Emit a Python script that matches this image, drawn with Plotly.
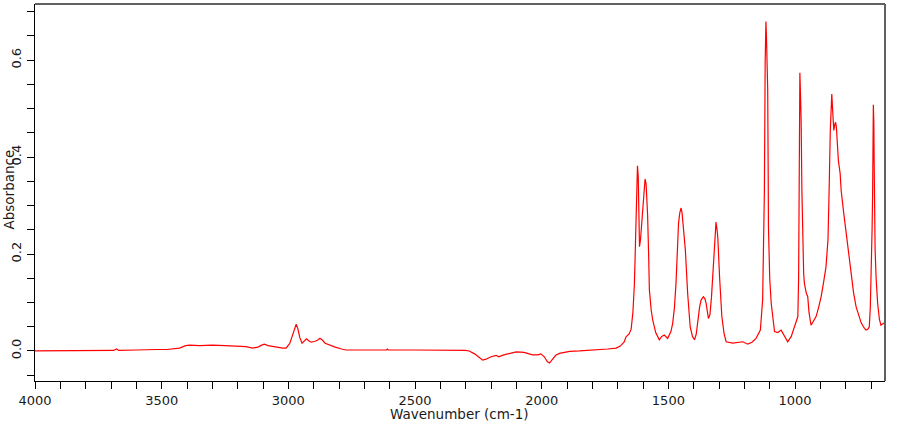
import plotly.graph_objects as go

wavenumber = [
    4000, 3900, 3800, 3720, 3690, 3678, 3670, 3600, 3560, 3520, 3480, 3450, 3430,
    3405, 3390, 3350, 3300, 3250, 3200, 3167, 3141, 3120, 3105, 3095, 3080, 3050,
    3022, 3009, 2995, 2985, 2975, 2969, 2962, 2955, 2946, 2938, 2928, 2920, 2910,
    2895, 2885, 2875, 2865, 2855, 2838, 2815, 2790, 2773, 2700, 2650, 2612, 2609,
    2605, 2500, 2400, 2350, 2300, 2286, 2265, 2245, 2233, 2220, 2200, 2180, 2170,
    2150, 2120, 2101, 2070, 2036, 2015, 2003, 1990, 1978, 1969, 1958, 1945, 1930,
    1890, 1850, 1785, 1740, 1706, 1690, 1675, 1667, 1655, 1647, 1640, 1634, 1630,
    1627, 1625, 1622, 1619, 1616, 1614, 1610, 1605, 1601, 1596, 1592, 1588, 1582,
    1578, 1575, 1568, 1562, 1550, 1536, 1526, 1516, 1503, 1490, 1483, 1476, 1470,
    1465, 1460, 1455, 1450, 1446, 1443, 1433, 1424, 1414, 1405, 1397, 1390, 1384,
    1377, 1371, 1362, 1356, 1351, 1342, 1336, 1330, 1325, 1320, 1316, 1312, 1308,
    1305, 1298, 1289, 1280, 1272, 1246, 1220, 1206, 1187, 1170, 1154, 1137, 1128,
    1123, 1121, 1118, 1115, 1113, 1110, 1108, 1106, 1105, 1100, 1094, 1081, 1068,
    1055, 1040, 1029, 1015, 1003, 995, 989, 986, 984, 981, 978, 976, 973, 970,
    966, 963, 956, 950, 945, 937, 928, 917, 907, 897, 888, 878, 870, 867, 865,
    861, 858, 855, 852, 849, 847, 843, 840, 837, 834, 829, 822, 818, 808, 798,
    789, 779, 769, 759, 749, 739, 728, 720, 712, 707, 703, 700, 696, 694, 692,
    691, 689, 688, 686, 684, 680, 674, 667, 661, 656, 652, 648, 645,
]

absorbance = [
    0.0, 0.0, 0.0005, 0.0005, 0.001, 0.004, 0.001, 0.002, 0.003, 0.003, 0.003, 0.005, 0.006,
    0.011, 0.012, 0.011, 0.012, 0.011, 0.010, 0.009, 0.006, 0.008, 0.012, 0.014, 0.011, 0.008,
    0.006, 0.006, 0.015, 0.030, 0.048, 0.055, 0.045, 0.028, 0.016, 0.020, 0.025, 0.021, 0.018,
    0.020, 0.022, 0.026, 0.022, 0.016, 0.012, 0.008, 0.004, 0.002, 0.002, 0.002, 0.002, 0.004,
    0.002, 0.002, 0.002, 0.002, 0.001, 0.0, -0.006, -0.014, -0.019, -0.017, -0.012, -0.009, -0.012,
    -0.008, -0.004, -0.002, -0.003, -0.008, -0.008, -0.006, -0.012, -0.022, -0.025, -0.018, -0.009, -0.005,
    -0.001, 0.0, 0.002, 0.004, 0.006, 0.010, 0.018, 0.029, 0.035, 0.045, 0.080, 0.139, 0.220,
    0.290, 0.340, 0.382, 0.360, 0.260, 0.215, 0.230, 0.270, 0.300, 0.345, 0.355, 0.345, 0.280,
    0.200, 0.126, 0.085, 0.064, 0.038, 0.023, 0.030, 0.033, 0.026, 0.040, 0.057, 0.090, 0.139,
    0.210, 0.263, 0.285, 0.295, 0.285, 0.270, 0.208, 0.119, 0.050, 0.030, 0.023, 0.035, 0.064,
    0.090, 0.105, 0.112, 0.108, 0.098, 0.067, 0.075, 0.110, 0.153, 0.210, 0.242, 0.266, 0.250,
    0.235, 0.153, 0.071, 0.035, 0.019, 0.016, 0.018, 0.019, 0.014, 0.018, 0.026, 0.043, 0.105,
    0.250, 0.331, 0.595, 0.680, 0.650, 0.560, 0.540, 0.360, 0.256, 0.150, 0.098, 0.040, 0.038,
    0.043, 0.028, 0.019, 0.030, 0.047, 0.060, 0.071, 0.150, 0.300, 0.574, 0.520, 0.475, 0.330, 0.208,
    0.160, 0.139, 0.120, 0.112, 0.080, 0.053, 0.060, 0.071, 0.090, 0.112, 0.140, 0.173, 0.230, 0.280, 0.345,
    0.455, 0.510, 0.530, 0.500, 0.460, 0.455, 0.468, 0.472, 0.462, 0.440, 0.393, 0.366, 0.331, 0.285, 0.242,
    0.200, 0.160, 0.120, 0.091, 0.072, 0.058, 0.048, 0.043, 0.045, 0.050, 0.090, 0.139, 0.250, 0.320, 0.450,
    0.508, 0.470, 0.400, 0.300, 0.208, 0.150, 0.098, 0.065, 0.053, 0.055, 0.057, 0.058, 0.058,
]

x_tick_values = list(range(4000, 600, -100))
x_tick_labels = [str(v) if v % 500 == 0 else "" for v in x_tick_values]
y_tick_values = [round(-0.05 + 0.05 * i, 2) for i in range(16)]
y_tick_labels = [f"{v:.1f}" if abs(round(v / 0.2) * 0.2 - v) < 1e-9 and v >= 0 else "" for v in y_tick_values]

FONT = "DejaVu Sans"
TXT = "#1a1a1a"

fig = go.Figure()
fig.add_trace(go.Scatter(
    x=wavenumber, y=absorbance, mode="lines",
    line=dict(color="#ff0000", width=1.2),
    hoverinfo="skip", showlegend=False,
))

fig.update_layout(
    width=910, height=425,
    margin=dict(l=35, r=25, t=4, b=44),
    paper_bgcolor="white", plot_bgcolor="white",
    font=dict(family=FONT, size=13, color=TXT),
    xaxis=dict(
        range=[4000, 645], showgrid=False, zeroline=False,
        showline=True, linecolor="black", linewidth=1,
        ticks="outside", ticklen=7, tickcolor="black", tickwidth=1,
        tickmode="array", tickvals=x_tick_values, ticktext=x_tick_labels,
        tickfont=dict(family=FONT, size=13, color=TXT),
    ),
    yaxis=dict(
        range=[-0.062, 0.716], showgrid=False, zeroline=False,
        showline=True, linecolor="black", linewidth=1,
        ticks="outside", ticklen=7, tickcolor="black", tickwidth=1,
        tickmode="array", tickvals=y_tick_values, ticktext=y_tick_labels,
        tickangle=-90, ticklabelstandoff=1,
        tickfont=dict(family=FONT, size=13, color=TXT),
    ),
    shapes=[
        dict(type="line", xref="paper", yref="paper", x0=0, x1=1, y0=1, y1=1,
             line=dict(color="#606060", width=2)),
        dict(type="line", xref="paper", yref="paper", x0=1, x1=1, y0=0, y1=1,
             line=dict(color="#606060", width=2)),
    ],
    annotations=[
        dict(text="Wavenumber (cm-1)", xref="paper", yref="paper",
             x=0.4994, y=-0.0875, xanchor="center", yanchor="middle",
             showarrow=False, font=dict(family=FONT, size=13.5, color=TXT)),
        dict(text="Absorbance", xref="paper", yref="paper",
             x=-0.03, y=0.5066, xanchor="center", yanchor="middle", textangle=-90,
             showarrow=False, font=dict(family=FONT, size=13.5, color=TXT)),
    ],
)

fig.write_html("out.html", config={"displayModeBar": False})
